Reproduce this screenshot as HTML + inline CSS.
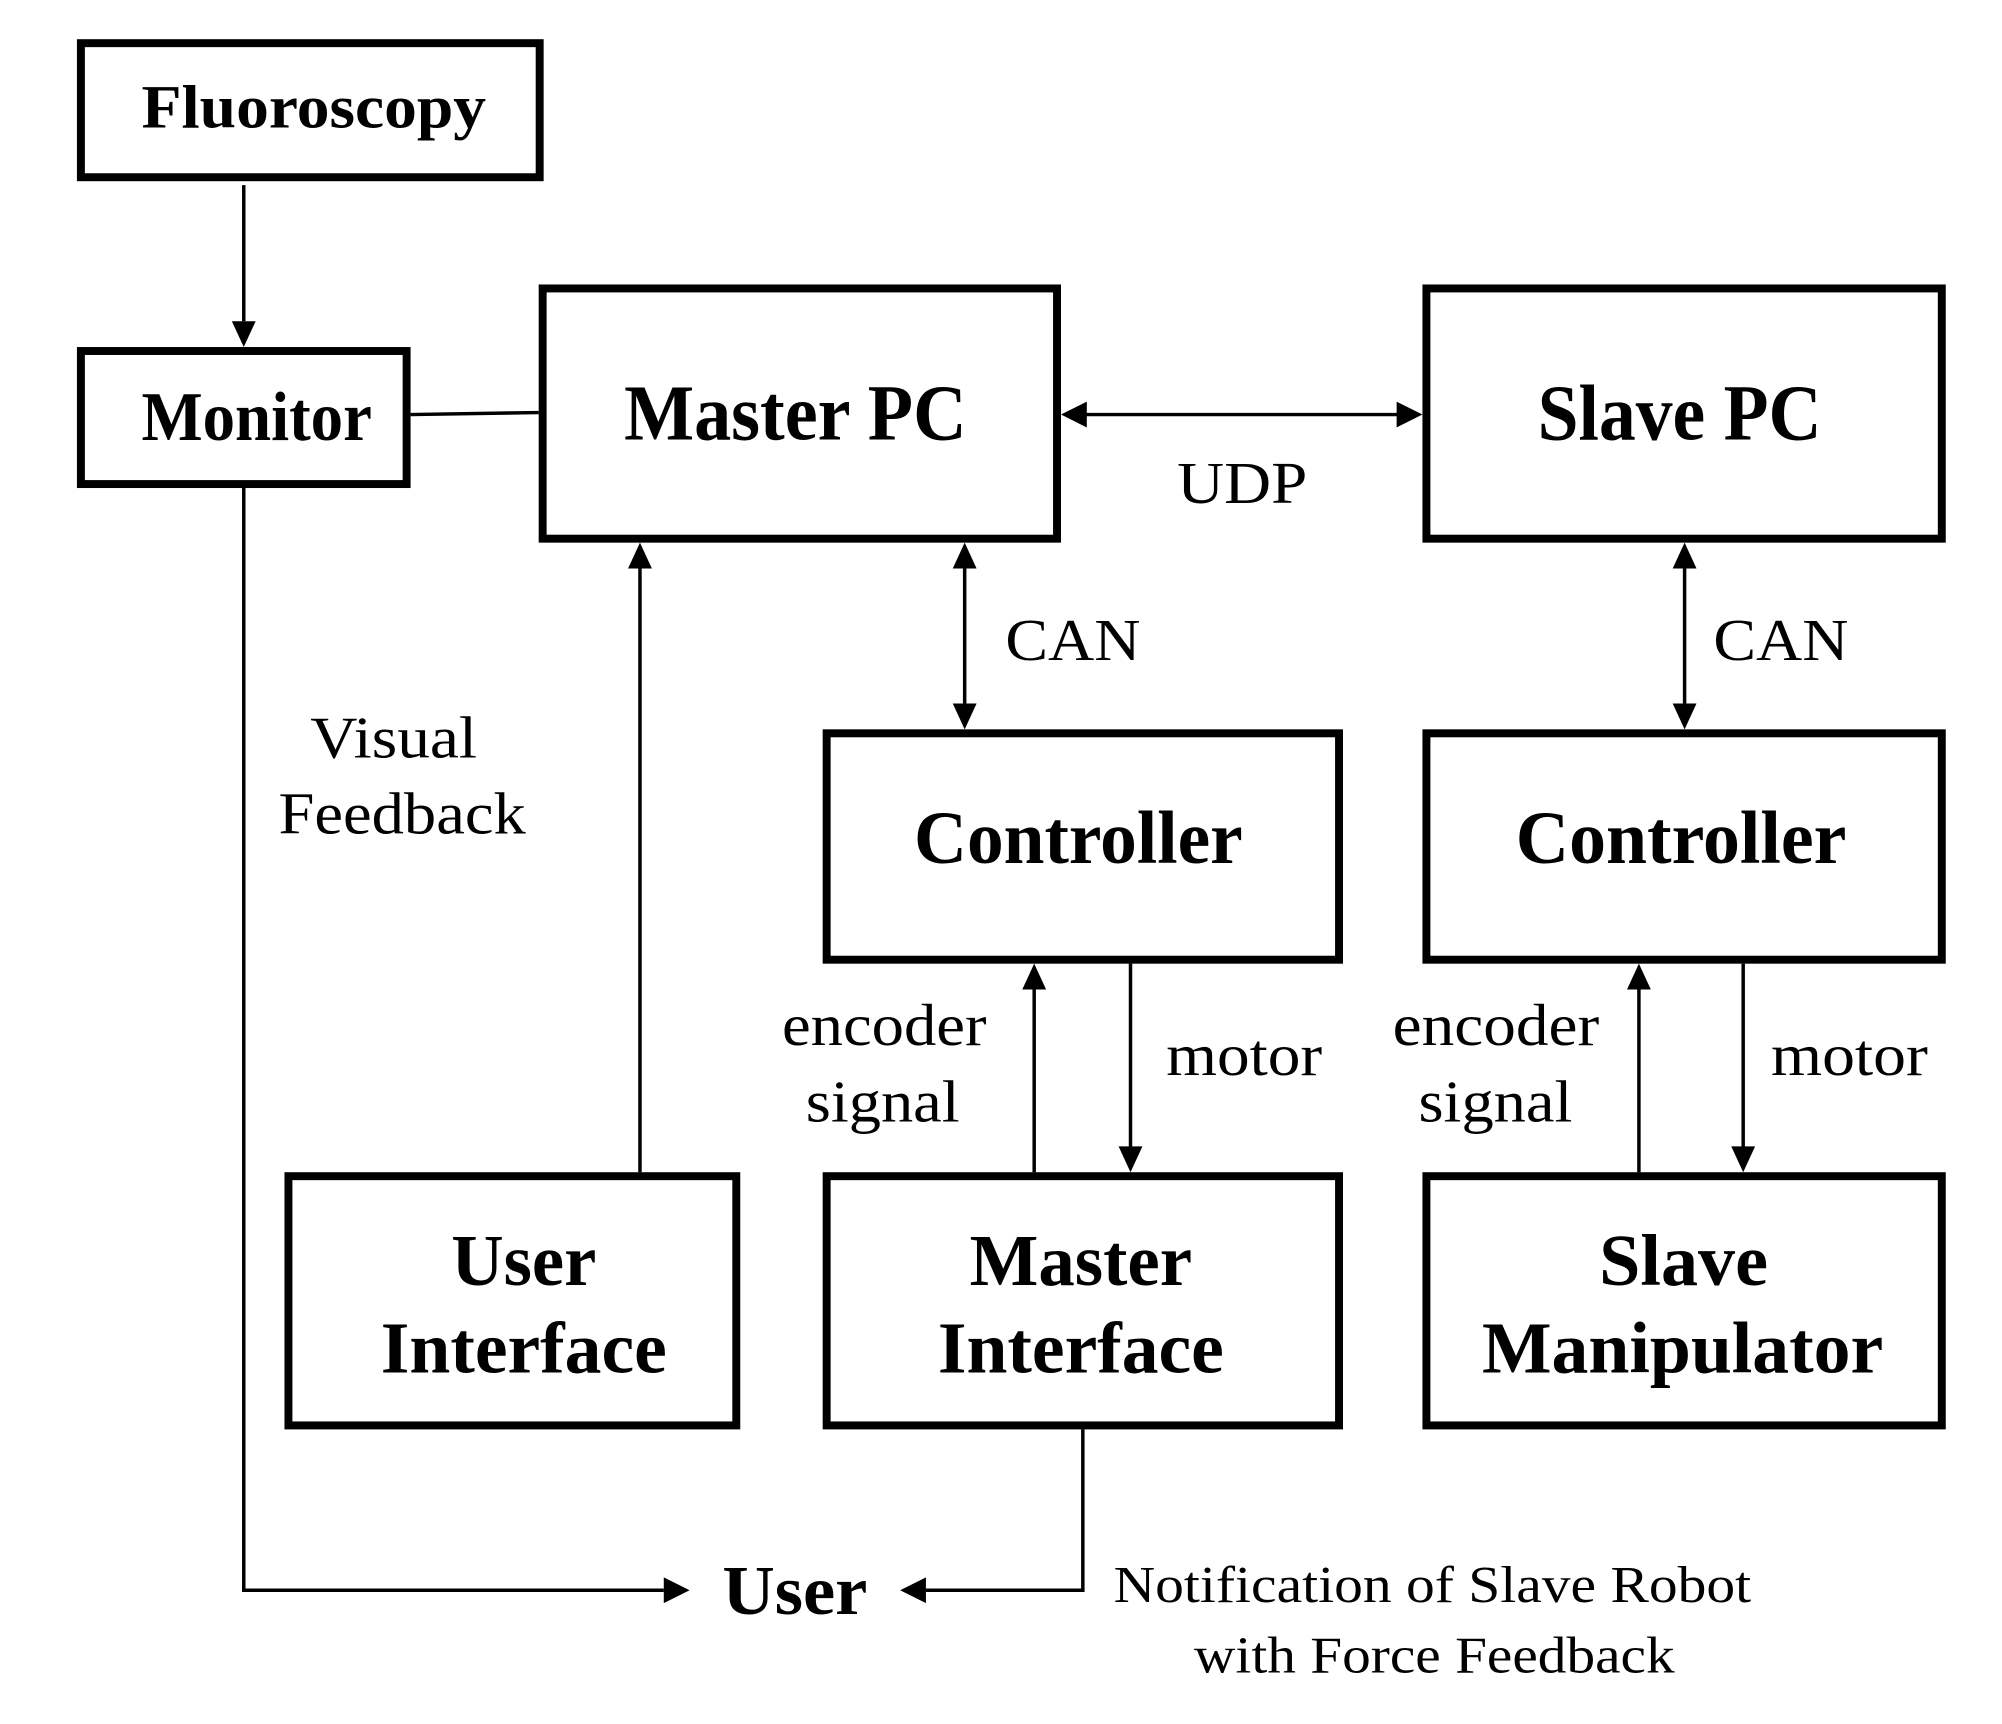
<!DOCTYPE html>
<html><head><style>html,body{margin:0;padding:0;background:#fff}svg{display:block}</style></head><body>
<svg width="2002" height="1724" viewBox="0 0 2002 1724" xmlns="http://www.w3.org/2000/svg">
<g transform="translate(-3.5,-3.5) scale(0.993)">
<g fill="none" stroke="#000" stroke-width="8">
<rect x="85" y="47" width="462" height="135"/>
<rect x="85" y="357" width="328" height="134"/>
<rect x="550" y="294" width="518" height="252"/>
<rect x="1440" y="294" width="519" height="252"/>
<rect x="836" y="742" width="516" height="228"/>
<rect x="1440" y="742" width="519" height="228"/>
<rect x="294" y="1188" width="451" height="251"/>
<rect x="836" y="1188" width="516" height="251"/>
<rect x="1440" y="1188" width="519" height="251"/>
</g>
<g stroke="#000" stroke-width="3.5" fill="none">
<line x1="249" y1="190" x2="249" y2="327"/>
<line x1="417" y1="421" x2="546" y2="419"/>
<polyline points="249,495 249,1605 672,1605"/>
<polyline points="1094,1443 1094,1605 936,1605"/>
<line x1="648" y1="1184" x2="648" y2="575"/>
<line x1="975" y1="575" x2="975" y2="713"/>
<line x1="1700" y1="575" x2="1700" y2="713"/>
<line x1="1097" y1="421" x2="1411" y2="421"/>
<line x1="1045" y1="1184" x2="1045" y2="999"/>
<line x1="1142" y1="974" x2="1142" y2="1159"/>
<line x1="1654" y1="1184" x2="1654" y2="999"/>
<line x1="1759" y1="974" x2="1759" y2="1159"/>
</g>
<g fill="#000">
<path d="M237,327 L261,327 L249,353 z"/>
<path d="M672,1592 L672,1618 L698,1605 z"/>
<path d="M936,1592 L936,1618 L910,1605 z"/>
<path d="M636,576 L660,576 L648,550 z"/>
<path d="M963,576 L987,576 L975,550 z"/>
<path d="M963,712 L987,712 L975,738 z"/>
<path d="M1688,576 L1712,576 L1700,550 z"/>
<path d="M1688,712 L1712,712 L1700,738 z"/>
<path d="M1098,408 L1098,434 L1072,421 z"/>
<path d="M1410,408 L1410,434 L1436,421 z"/>
<path d="M1033,1000 L1057,1000 L1045,974 z"/>
<path d="M1130,1158 L1154,1158 L1142,1184 z"/>
<path d="M1642,1000 L1666,1000 L1654,974 z"/>
<path d="M1747,1158 L1771,1158 L1759,1184 z"/>
</g>
<g font-family="Liberation Serif, serif" font-weight="bold" fill="#000" dominant-baseline="central">
<text x="146" y="112" font-size="62" textLength="347" lengthAdjust="spacingAndGlyphs">Fluoroscopy</text>
<text x="146" y="424" font-size="70" textLength="232" lengthAdjust="spacingAndGlyphs">Monitor</text>
<text x="632" y="420" font-size="80" textLength="345" lengthAdjust="spacingAndGlyphs">Master PC</text>
<text x="1552" y="420" font-size="80" textLength="286" lengthAdjust="spacingAndGlyphs">Slave PC</text>
<text x="924" y="848" font-size="76" textLength="331" lengthAdjust="spacingAndGlyphs">Controller</text>
<text x="1530" y="848" font-size="76" textLength="333" lengthAdjust="spacingAndGlyphs">Controller</text>
<text x="458" y="1273" font-size="74" textLength="146" lengthAdjust="spacingAndGlyphs">User</text>
<text x="387" y="1361" font-size="74" textLength="288" lengthAdjust="spacingAndGlyphs">Interface</text>
<text x="980" y="1273" font-size="74" textLength="224" lengthAdjust="spacingAndGlyphs">Master</text>
<text x="948" y="1361" font-size="74" textLength="288" lengthAdjust="spacingAndGlyphs">Interface</text>
<text x="1614" y="1273" font-size="74" textLength="170" lengthAdjust="spacingAndGlyphs">Slave</text>
<text x="1496" y="1361" font-size="74" textLength="404" lengthAdjust="spacingAndGlyphs">Manipulator</text>
<text x="731" y="1606" font-size="70" textLength="146" lengthAdjust="spacingAndGlyphs">User</text>
</g>
<g font-family="Liberation Serif, serif" fill="#000" dominant-baseline="central">
<text x="1189" y="490" font-size="60" textLength="131" lengthAdjust="spacingAndGlyphs">UDP</text>
<text x="1016" y="648" font-size="60" textLength="136" lengthAdjust="spacingAndGlyphs">CAN</text>
<text x="1729" y="648" font-size="60" textLength="136" lengthAdjust="spacingAndGlyphs">CAN</text>
<text x="316" y="746" font-size="60" textLength="168" lengthAdjust="spacingAndGlyphs">Visual</text>
<text x="284" y="823" font-size="60" textLength="249" lengthAdjust="spacingAndGlyphs">Feedback</text>
<text x="791" y="1036" font-size="60" textLength="206" lengthAdjust="spacingAndGlyphs">encoder</text>
<text x="815" y="1113" font-size="60" textLength="155" lengthAdjust="spacingAndGlyphs">signal</text>
<text x="1178" y="1066" font-size="60" textLength="157" lengthAdjust="spacingAndGlyphs">motor</text>
<text x="1406" y="1036" font-size="60" textLength="208" lengthAdjust="spacingAndGlyphs">encoder</text>
<text x="1432" y="1113" font-size="60" textLength="155" lengthAdjust="spacingAndGlyphs">signal</text>
<text x="1787" y="1066" font-size="60" textLength="158" lengthAdjust="spacingAndGlyphs">motor</text>
<text x="1125" y="1600" font-size="52" textLength="642" lengthAdjust="spacingAndGlyphs">Notification of Slave Robot</text>
<text x="1206" y="1671" font-size="52" textLength="484" lengthAdjust="spacingAndGlyphs">with Force Feedback</text>
</g>
</g>
</svg>
</body></html>
